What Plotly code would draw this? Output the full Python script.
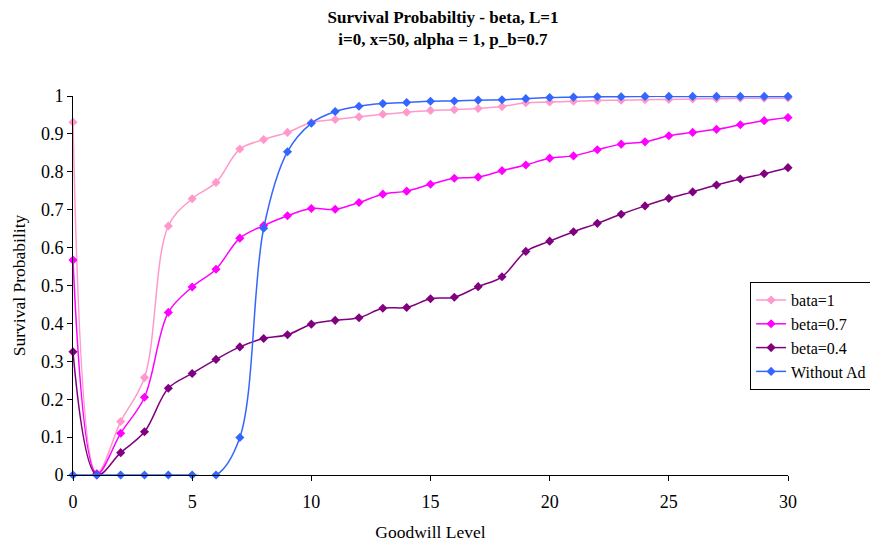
import plotly.graph_objects as go

goodwill = list(range(31))

bata_1 = [0.931, 0.004, 0.141, 0.257, 0.657, 0.729, 0.772, 0.860, 0.885, 0.904,
          0.930, 0.938, 0.945, 0.952, 0.957, 0.962, 0.964, 0.967, 0.972, 0.982,
          0.984, 0.986, 0.988, 0.989, 0.990, 0.991, 0.992, 0.993, 0.994, 0.994, 0.995]
beta_07 = [0.567, 0.003, 0.110, 0.205, 0.429, 0.496, 0.543, 0.625, 0.658, 0.684,
           0.703, 0.701, 0.719, 0.741, 0.749, 0.767, 0.783, 0.786, 0.803, 0.818,
           0.836, 0.842, 0.858, 0.873, 0.879, 0.895, 0.904, 0.912, 0.924, 0.935, 0.943]
beta_04 = [0.325, 0.000, 0.059, 0.114, 0.229, 0.268, 0.305, 0.338, 0.360, 0.370,
           0.398, 0.408, 0.415, 0.440, 0.442, 0.465, 0.469, 0.497, 0.523, 0.590,
           0.617, 0.642, 0.664, 0.688, 0.710, 0.730, 0.747, 0.765, 0.781, 0.795, 0.811]
without_ad = [0.0, 0.0, 0.0, 0.0, 0.0, 0.0, 0.0, 0.099, 0.651, 0.853,
              0.928, 0.959, 0.973, 0.980, 0.983, 0.986, 0.987, 0.989, 0.990, 0.993,
              0.996, 0.997, 0.998, 0.998, 0.999, 0.999, 0.999, 0.999, 0.999, 0.999, 0.999]

series = [
    ("bata=1", bata_1, "#FF99CC"),
    ("beta=0.7", beta_07, "#FF00FF"),
    ("beta=0.4", beta_04, "#800080"),
    ("Without Ad", without_ad, "#3366FF"),
]

FONT = "Liberation Serif, Times New Roman, serif"

fig = go.Figure()
for name, vals, color in series:
    fig.add_trace(go.Scatter(
        x=goodwill, y=vals, name=name, mode="lines+markers",
        line=dict(color=color, width=1.5, shape="spline", smoothing=1),
        marker=dict(symbol="diamond", size=7, color=color),
        cliponaxis=False,
    ))

fig.update_layout(
    width=870, height=536,
    paper_bgcolor="white", plot_bgcolor="white",
    font=dict(family=FONT, size=18, color="black"),
    margin=dict(l=65, r=90, t=88, b=69, autoexpand=False),
    title=dict(
        text="<b>Survival Probabiltiy - beta, L=1<br>i=0, x=50, alpha = 1, p_b=0.7</b>",
        x=0.5, xanchor="center", y=0.972, yanchor="top",
        font=dict(family=FONT, size=17, color="black"),
    ),
    showlegend=True,
    legend=dict(
        x=0.947, y=0.509, xanchor="left", yanchor="top",
        bordercolor="black", borderwidth=1, bgcolor="white",
        font=dict(family=FONT, size=16, color="black"),
        tracegroupgap=0, itemwidth=30,
    ),
    xaxis=dict(
        range=[0, 30], tickmode="linear", tick0=0, dtick=5,
        showgrid=False, zeroline=False, showline=True, linecolor="black", linewidth=1,
        ticks="outside", ticklen=5, tickcolor="black", automargin=False,
        ticklabelstandoff=5,
        title=dict(text="Goodwill Level", font=dict(family=FONT, size=17.5), standoff=15),
    ),
    yaxis=dict(
        range=[0, 1], tickmode="linear", tick0=0, dtick=0.1,
        showgrid=False, zeroline=False, showline=True, linecolor="black", linewidth=1,
        ticks="outside", ticklen=5, tickcolor="black", automargin=False,
        title=dict(text="Survival Probability", font=dict(family=FONT, size=17.5), standoff=10),
    ),
)

fig.write_html("out.html")
